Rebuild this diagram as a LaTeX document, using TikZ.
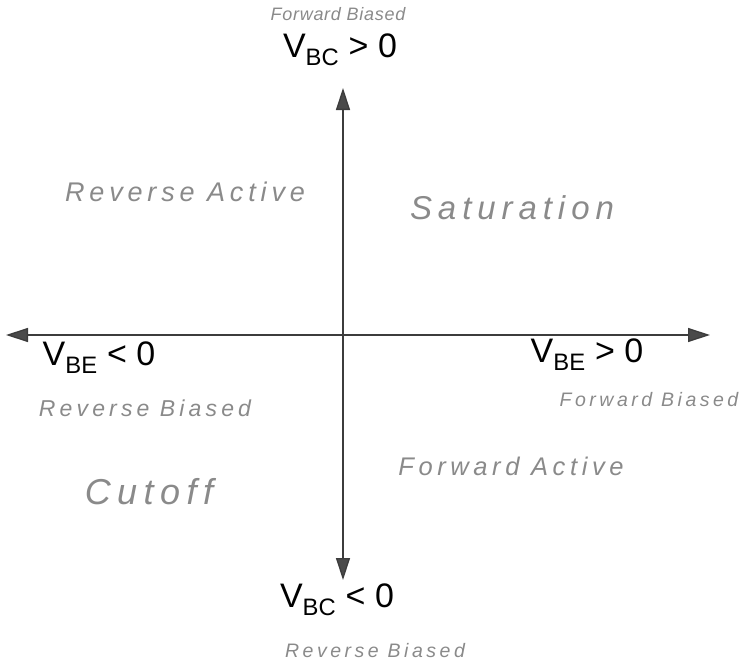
\documentclass[tikz,border=0pt]{standalone}
\usepackage{fontspec}
\usetikzlibrary{arrows.meta}
\setmainfont{Liberation Sans}
\newfontfamily\handfont[LetterSpace=18]{Liberation Sans}
\newfontfamily\handtight[LetterSpace=4]{Liberation Sans}
\definecolor{axiscol}{HTML}{3C3C3C}
\definecolor{tipcol}{HTML}{4A4A4A}
\definecolor{handcol}{HTML}{8A8A8A}
\begin{document}
\begin{tikzpicture}[x=1pt,y=-1pt,
  axis/.style={draw=axiscol,line width=1.3pt,-{Triangle[length=22pt,width=14pt,fill=tipcol]}},
  vlabel/.style={inner sep=0pt,font=\fontsize{34}{34}\selectfont,text=black},
  hand/.style={inner sep=0pt,text=handcol,font=\handfont\itshape\fontsize{#1}{#1}\selectfont},
  hand/.default=26,
  handnarrow/.style={inner sep=0pt,text=handcol,font=\handtight\itshape\fontsize{#1}{#1}\selectfont}]
\useasboundingbox (0,0) rectangle (742,669);
\coordinate (o) at (343,335);
\coordinate (top) at (343,88);
\coordinate (bot) at (343,580);
\coordinate (lft) at (6,335);
\coordinate (rgt) at (710,335);
\draw[axis] (o) -- (top);
\draw[axis] (o) -- (bot);
\draw[axis] (o) -- (lft);
\draw[axis] (o) -- (rgt);
\node[handnarrow=18] (fbt) at (338,14) {Forward Biased};
\node[vlabel] (vbcp) at (340,50) {V\textsubscript{BC} > 0};
\node[hand=27] (ra) at (185,192) {Reverse Active};
\node[hand=33] (sat) at (512,208) {Saturation};
\node[vlabel] (vben) at (99,358) {V\textsubscript{BE} < 0};
\node[hand=23] (rbl) at (145,408) {Reverse Biased};
\node[vlabel] (vbep) at (587,355) {V\textsubscript{BE} > 0};
\node[hand=19.5] (fbr) at (649,400) {Forward Biased};
\node[hand=25.5] (fa) at (511,466) {Forward Active};
\node[hand=36] (cut) at (149,492) {Cutoff};
\node[vlabel] (vbcn) at (337,600) {V\textsubscript{BC} < 0};
\node[hand=19.5] (rbb) at (375,651) {Reverse Biased};
\end{tikzpicture}
\end{document}
